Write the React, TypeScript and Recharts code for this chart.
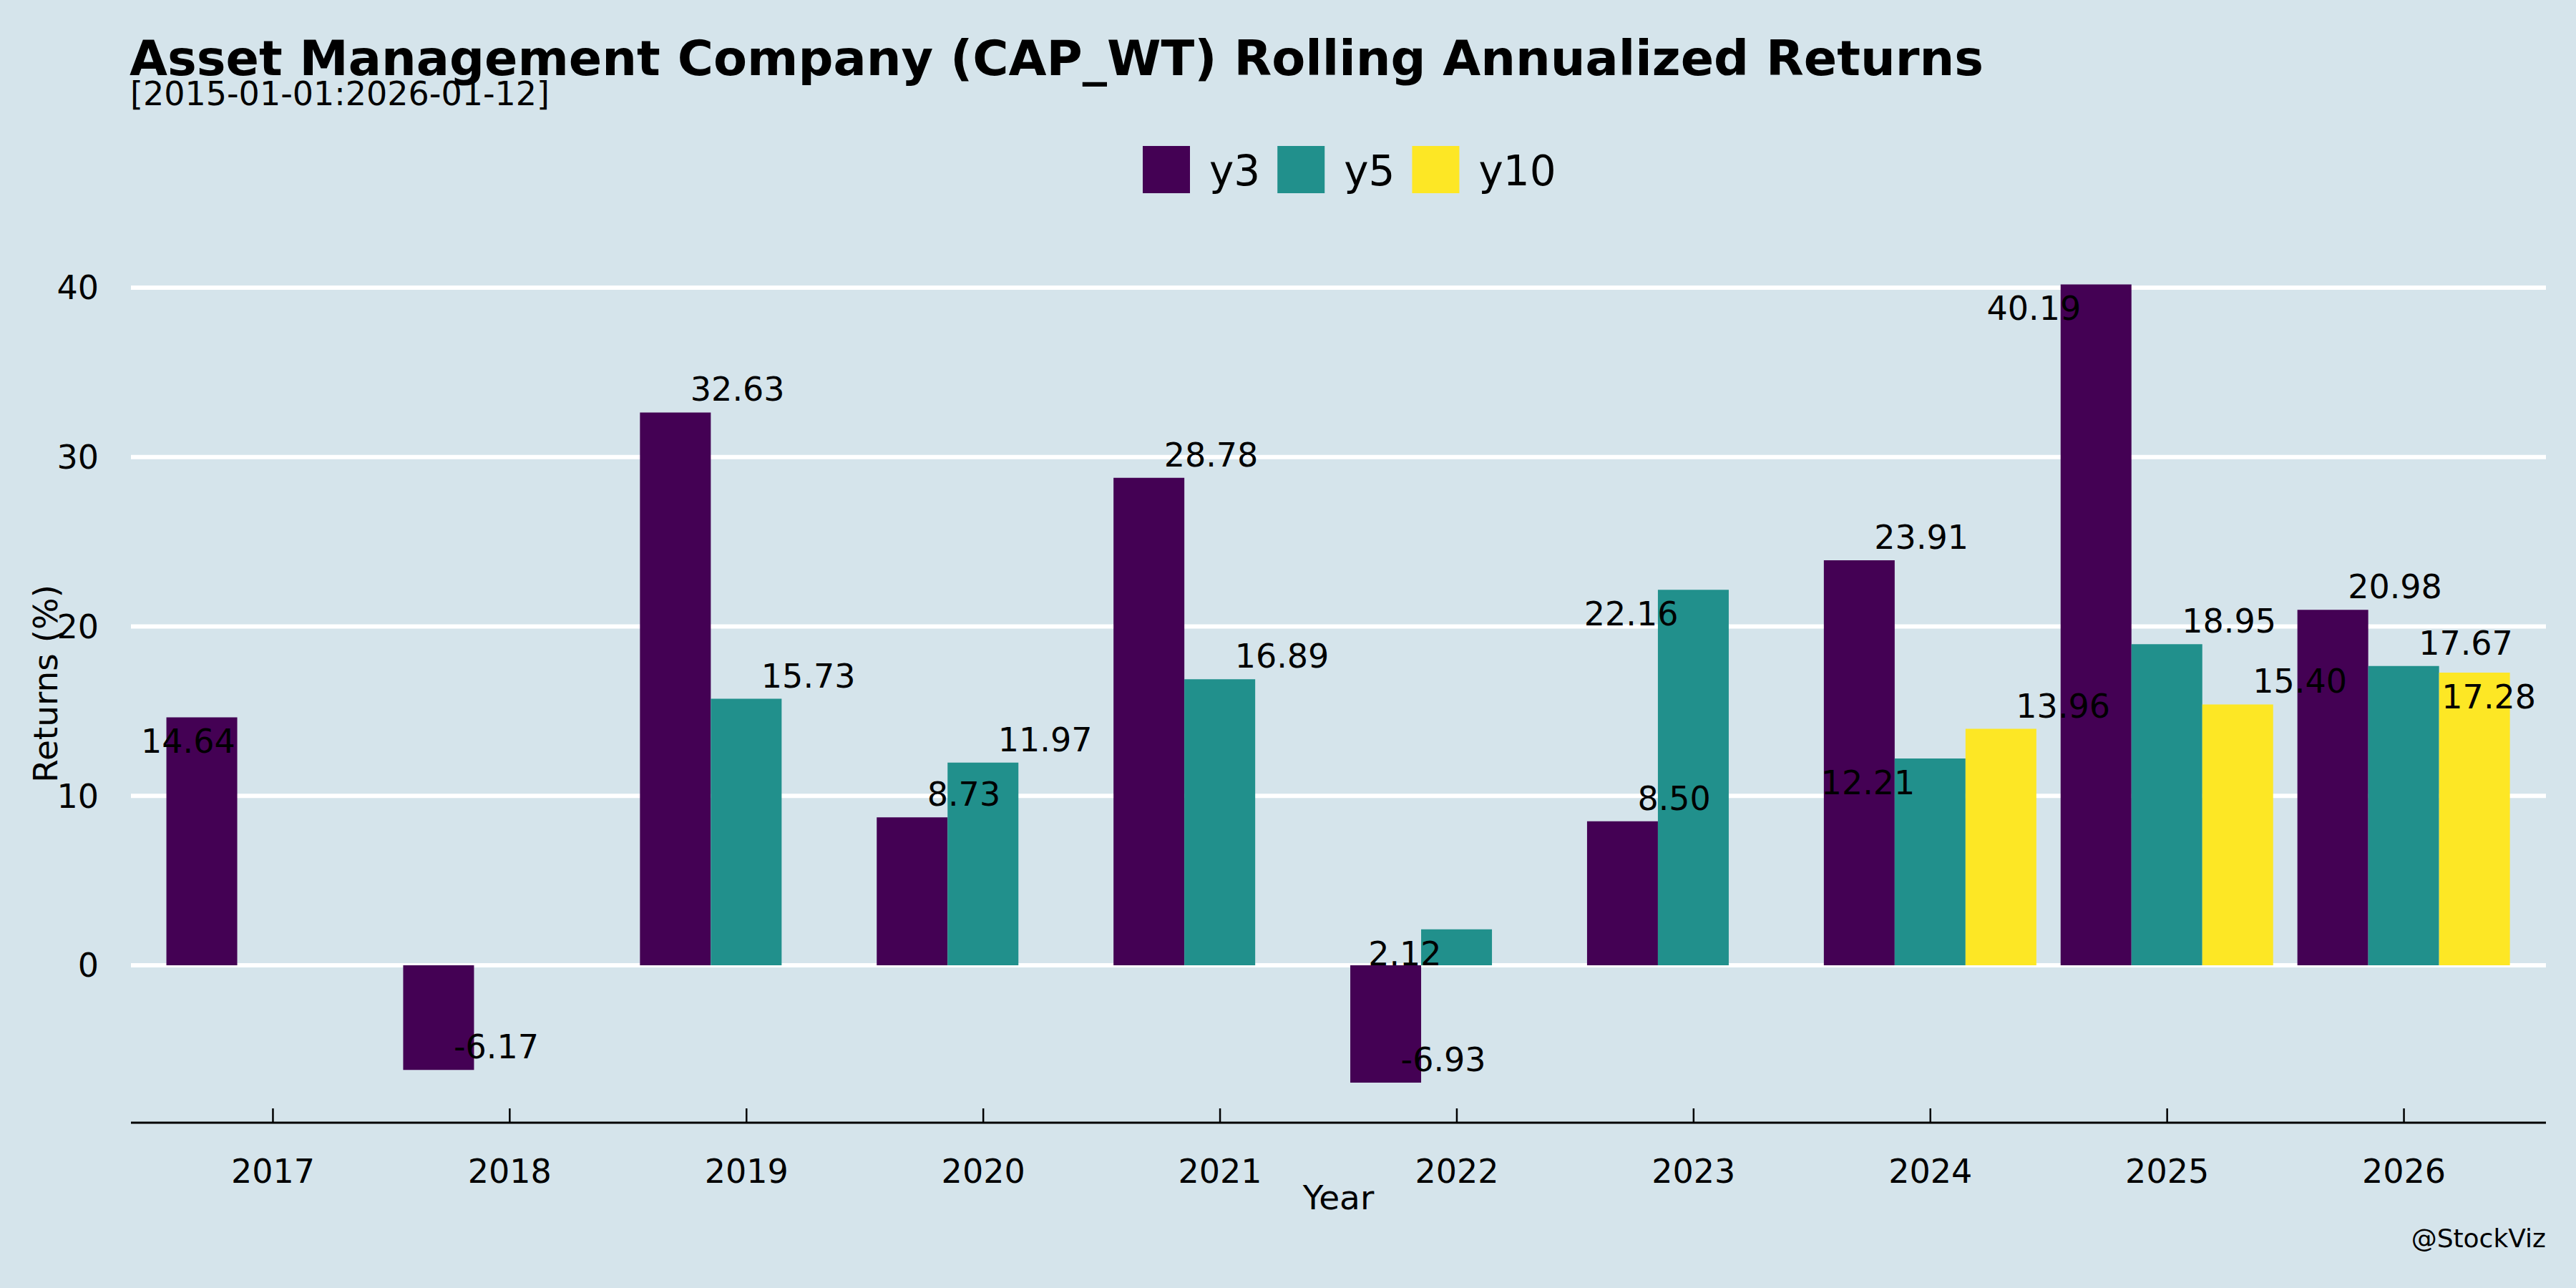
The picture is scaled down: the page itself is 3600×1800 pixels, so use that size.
import React from "react";
import { BarChart, Bar, XAxis, YAxis, CartesianGrid, LabelList } from "recharts";

// rolling annualized returns (%) by year
const years = ["2017", "2018", "2019", "2020", "2021", "2022", "2023", "2024", "2025", "2026"];
const y3 = [14.64, -6.17, 32.63, 8.73, 28.78, -6.93, 8.5, 23.91, 40.19, 20.98];
const y5 = [null, null, 15.73, 11.97, 16.89, 2.12, 22.16, 12.21, 18.95, 17.67];
const y10 = [null, null, null, null, null, null, null, 13.96, 15.4, 17.28];

// which side of the bar end each value label sits on (repelled labels in the original)
const y3Side = ["sw", "ne", "ne", "ne", "ne", "ne", "ne", "ne", "sw", "ne"];
const y5Side = [null, null, "ne", "ne", "ne", "sw", "sw", "sw", "ne", "ne"];
const y10Side = [null, null, null, null, null, null, null, "ne", "ne", "se"];

const yTicks = [0, 10, 20, 30, 40];
const yDomain = [-9.29, 42.55];

const W = 3600;
const H = 1800;
const PLOT_LEFT = 183;
const PLOT_RIGHT = 3558;
const PLOT_TOP = 341.6;
const PLOT_BOTTOM = 1569;
const X_AXIS_H = 150;
const BG = "#d5e4eb";
const FONT = "'DejaVu Sans', sans-serif";
const SMALL = 46;

const series = [
  { key: "y3", color: "#440154", values: y3, side: y3Side },
  { key: "y5", color: "#21908C", values: y5, side: y5Side },
  { key: "y10", color: "#FDE725", values: y10, side: y10Side },
];

const data = years.map((year, i) => ({ year, y3: y3[i], y5: y5[i], y10: y10[i] }));

// DejaVu Sans advance widths (em)
const charW: Record<string, number> = { ".": 0.318, "-": 0.361, y: 0.592 };
const textWidth = (s: string, size: number) =>
  s.split("").reduce((acc, c) => acc + (charW[c] ?? 0.636), 0) * size;

const makeLabel = (values: (number | null)[], side: (string | null)[]) => (props: any) => {
  const { value } = props;
  if (value === null || value === undefined) return null;
  const vb = props.viewBox ?? props;
  const x = Number(vb.x ?? props.x);
  const y = Number(vb.y ?? props.y);
  const w = Number(vb.width ?? props.width);
  const h = Number(vb.height ?? props.height);
  // null rows are skipped by the label list, so find the row from the value
  const row = values.indexOf(Number(value));
  const s = side[row] ?? "ne";
  const cx = x + w / 2;
  const end = value >= 0 ? Math.min(y, y + h) : Math.max(y, y + h);
  const text = Number(value).toFixed(2);
  const tw = textWidth(text, SMALL);
  let left = s === "sw" ? cx - 21 - tw : cx + 21;
  left = Math.max(PLOT_LEFT + 14, Math.min(PLOT_RIGHT - 14 - tw, left));
  const baseline = s === "ne" ? end - 16 : end + 50;
  return (
    <text x={left} y={baseline} fontSize={SMALL} fontFamily={FONT} fill="#000">
      {text}
    </text>
  );
};

const XTick = (props: any) => {
  const { x, payload } = props;
  return (
    <g>
      <line x1={x} x2={x} y1={PLOT_BOTTOM - 20} y2={PLOT_BOTTOM} stroke="#000" strokeWidth={2.5} />
      <text x={x} y={PLOT_BOTTOM + 84} textAnchor="middle" fontSize={SMALL} fontFamily={FONT} fill="#000">
        {payload.value}
      </text>
    </g>
  );
};

const XTitle = (props: any) => {
  const vb = props.viewBox;
  return (
    <text x={vb.x + vb.width / 2} y={PLOT_BOTTOM + 121} textAnchor="middle" fontSize={47} fontFamily={FONT} fill="#000">
      Year
    </text>
  );
};

const YTitle = (props: any) => {
  const vb = props.viewBox;
  const cy = vb.y + vb.height / 2;
  return (
    <text
      x={80}
      y={cy}
      transform={`rotate(-90, 80, ${cy})`}
      textAnchor="middle"
      fontSize={47}
      fontFamily={FONT}
      fill="#000"
    >
      Returns (%)
    </text>
  );
};

function Legend() {
  let cursor = 1597;
  const items = series.map((s) => {
    const keyX = cursor;
    const textX = keyX + 66 + 27;
    cursor = textX + textWidth(s.key, 58) + 24;
    return (
      <g key={s.key}>
        <rect x={keyX} y={204} width={66} height={66} fill={s.color} />
        <text x={textX} y={259} fontSize={58} fontFamily={FONT} fill="#000">
          {s.key}
        </text>
      </g>
    );
  });
  return <g>{items}</g>;
}

export default function App() {
  return (
    <div style={{ position: "absolute", left: 0, top: 0, width: W, height: H, background: BG }}>
      <BarChart
        width={W}
        height={H}
        data={data}
        barCategoryGap="5%"
        barGap={0}
        margin={{ top: PLOT_TOP, right: W - PLOT_RIGHT, left: 0, bottom: H - PLOT_BOTTOM - X_AXIS_H }}
      >
        <CartesianGrid vertical={false} horizontalValues={yTicks} stroke="#ffffff" strokeWidth={6} />
        <XAxis
          dataKey="year"
          height={X_AXIS_H}
          padding={{ left: 33, right: 33 }}
          axisLine={{ stroke: "#000", strokeWidth: 3 }}
          tickLine={false}
          tick={<XTick />}
          interval={0}
          label={{ content: <XTitle /> }}
        />
        <YAxis
          width={PLOT_LEFT}
          domain={yDomain}
          ticks={yTicks}
          allowDataOverflow
          axisLine={false}
          tickLine={false}
          tickSize={0}
          tickMargin={45}
          tick={{ fill: "#000", fontSize: SMALL, fontFamily: FONT }}
          label={{ content: <YTitle /> }}
        />
        {series.map((s) => (
          <Bar key={s.key} dataKey={s.key} fill={s.color} isAnimationActive={false}>
            <LabelList dataKey={s.key} content={makeLabel(s.values, s.side)} />
          </Bar>
        ))}
      </BarChart>
      <svg
        width={W}
        height={H}
        style={{ position: "absolute", left: 0, top: 0, pointerEvents: "none" }}
      >
        <text x={181} y={105} fontSize={68.5} fontWeight="bold" fontFamily={FONT} fill="#000">
          Asset Management Company (CAP_WT) Rolling Annualized Returns
        </text>
        <text x={182} y={147} fontSize={46} fontFamily={FONT} fill="#000">
          [2015-01-01:2026-01-12]
        </text>
        <Legend />
        <text x={PLOT_RIGHT} y={1743} textAnchor="end" fontSize={36} fontFamily={FONT} fill="#000">
          @StockViz
        </text>
      </svg>
    </div>
  );
}
